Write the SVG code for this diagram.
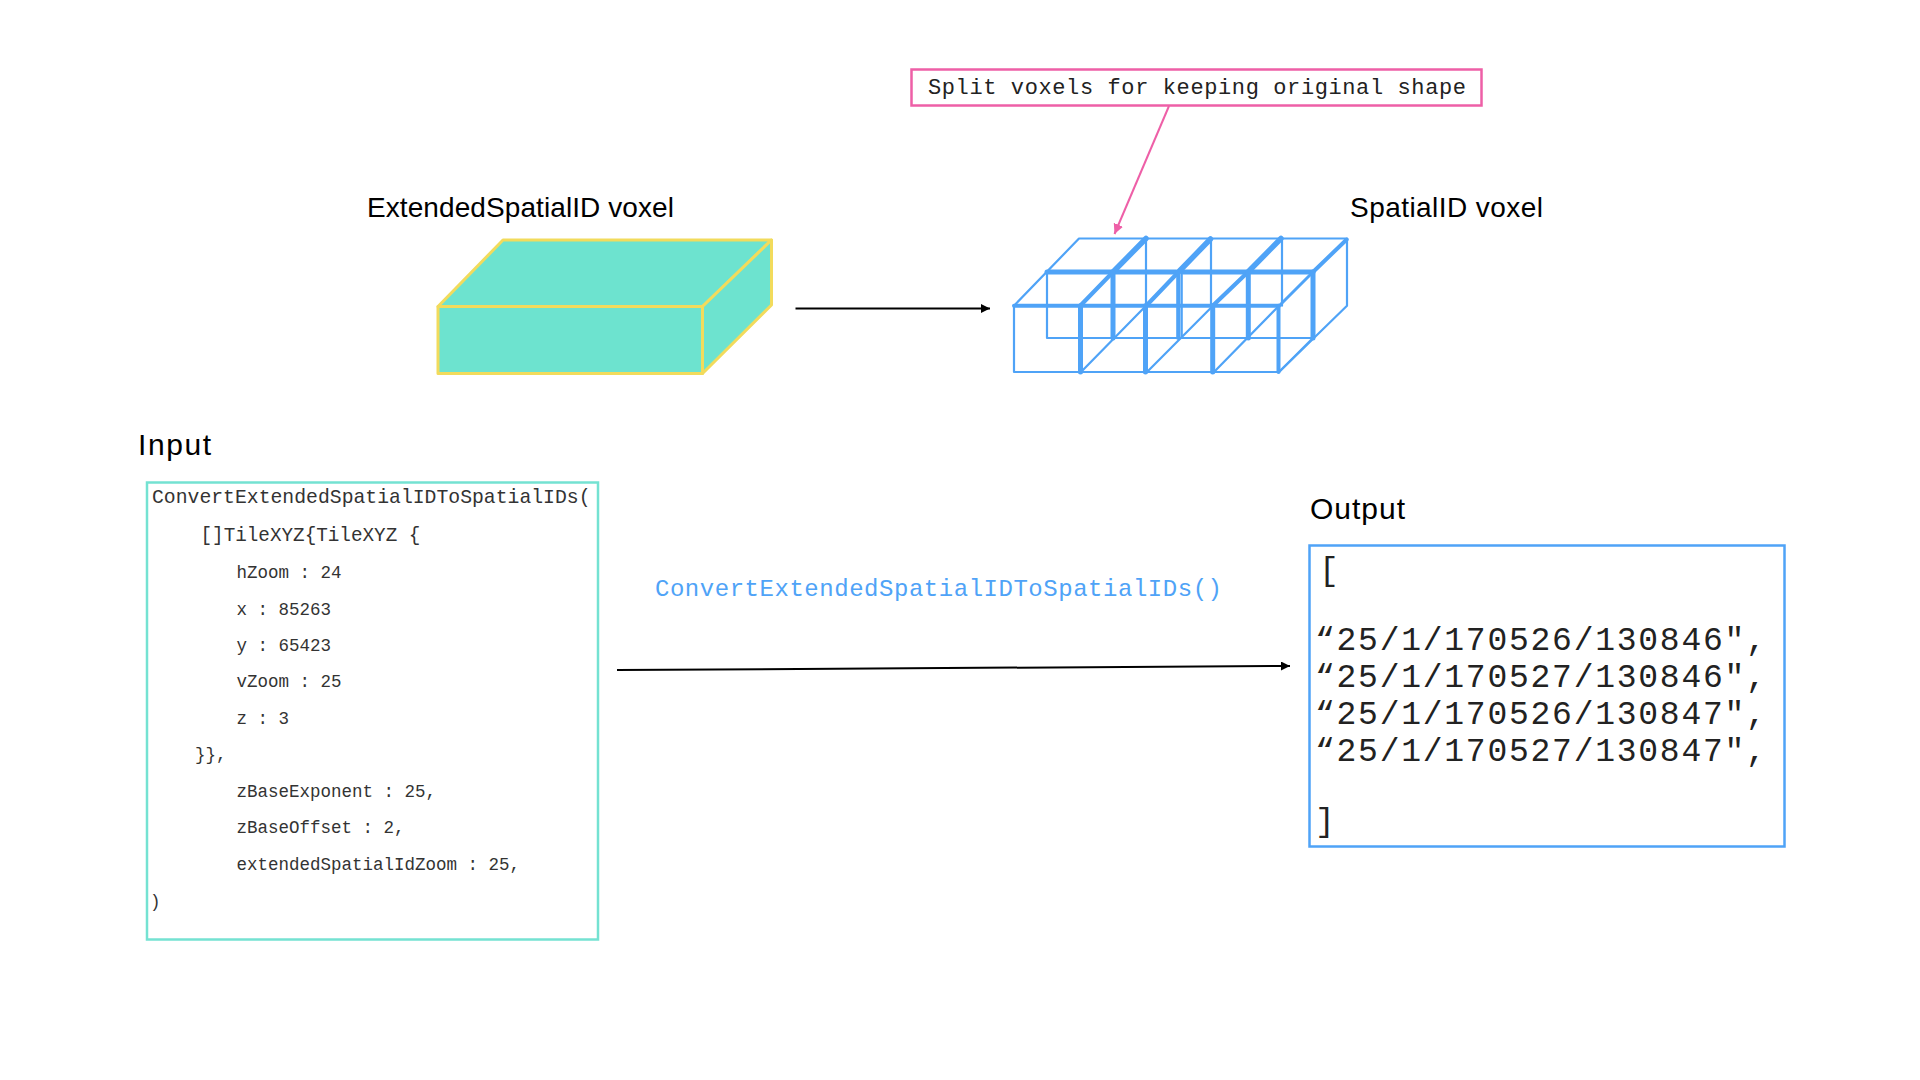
<svg xmlns="http://www.w3.org/2000/svg" width="1920" height="1080" viewBox="0 0 1920 1080">
<style>
.lab{font-family:"Liberation Sans",Arial,sans-serif;font-size:28px;fill:#000}
.big{font-size:30px}
.mono{font-family:"Liberation Mono",monospace;fill:#333}
.in{font-size:17.5px}
.out{font-size:33px;letter-spacing:1.75px;fill:#222}
.box{fill:#fff;stroke-width:2.5}
.y{fill:#6de3cf;stroke:#f2db5c;stroke-width:3;stroke-linejoin:round}
.v{fill:none;stroke:#4fa3f7;stroke-linecap:round;stroke-linejoin:round}
.t{stroke-width:2.2}
.m{stroke-width:4.2}
.k{stroke-width:5.5}
</style>
<defs>
<marker id="ab" markerUnits="userSpaceOnUse" markerWidth="10" markerHeight="10" refX="9" refY="4.5" orient="auto"><path d="M0 0L9 4.5L0 9Z" fill="#000"/></marker>
<marker id="ap" markerUnits="userSpaceOnUse" markerWidth="12" markerHeight="12" refX="10" refY="5" orient="auto"><path d="M0 0L10 5L0 10Z" fill="#ee5fa7"/></marker>
</defs>
<rect width="1920" height="1080" fill="#fff"/>

<g id="extended-voxel">
<text class="lab" x="367" y="217" textLength="307" lengthAdjust="spacing">ExtendedSpatialID voxel</text>
<path class="y" d="M438 306.500L503 240H771.500L702.500 306.500Z"/>
<path class="y" d="M702.500 306.500L771.500 240V305L702.500 373.500Z"/>
<rect class="y" x="438" y="306.500" width="264.500" height="67"/>
</g>

<g id="spatial-voxel">
<text class="lab" x="1350" y="217" textLength="193" lengthAdjust="spacing">SpatialID voxel</text>
<g class="v t">
<path d="M1014 305.700L1079 238.500H1210M1213 238.500H1347V305.700L1279 372"/>
<path d="M1146 238.500V305.700M1211 238.500V305.700M1282 238.500V305.700"/>
<path d="M1047 272V338H1177M1182 338H1313"/>
<path d="M1181.700 272V338"/>
<path d="M1014 305.700V372H1279"/>
<path d="M1081 372L1146 305.700M1147 372L1213 305.700M1214 372L1279 305.700M1279 372L1313 338"/>
</g>
<g class="v m">
<path d="M1178.300 272V338"/>
<path d="M1146.500 305.500L1178.500 272M1213 305.500L1248 272M1080.500 305.500L1113 272"/>
<path d="M1279.500 305.500L1313 272" stroke-width="3"/>
</g>
<g class="v k">
<path d="M1047 272H1176M1183 272H1313" stroke-width="5"/>
<path d="M1014 305.700H1279" stroke-width="4"/>
<path d="M1113 272L1146 238.500M1178.500 272L1210.500 239M1248 272L1281 238.500"/>
<path d="M1313 272L1346.700 239.500" stroke-width="4"/>
<path d="M1080.500 305.700V372M1145.500 305.700V372M1212.700 305.700V372" stroke-width="5"/>
<path d="M1278.500 305.700V372" stroke-width="4"/>
<path d="M1113 272V338M1248.300 272V338M1313 272V338" stroke-width="5"/>
</g>
</g>

<g id="input">
<text class="lab big" x="138" y="455" textLength="73" lengthAdjust="spacing">Input</text>
<rect class="box" x="147" y="482.500" width="451" height="457" stroke="#74e2d2"/>
<g class="mono in">
<text x="152" y="503" style="font-size:19.750px">ConvertExtendedSpatialIDToSpatialIDs(</text>
<text x="200.500" y="541" style="font-size:19.300px">[]TileXYZ{TileXYZ {</text>
<text x="236.500" y="578">hZoom : 24</text>
<text x="236.500" y="614.500">x : 85263</text>
<text x="236.500" y="651">y : 65423</text>
<text x="236.500" y="687">vZoom : 25</text>
<text x="236.500" y="724">z : 3</text>
<text x="195" y="760">}},</text>
<text x="236.500" y="797">zBaseExponent : 25,</text>
<text x="236.500" y="833">zBaseOffset : 2,</text>
<text x="236.500" y="870">extendedSpatialIdZoom : 25,</text>
<text x="150" y="907">)</text>
</g>
</g>

<g id="output">
<text class="lab big" x="1310" y="519" textLength="95" lengthAdjust="spacing">Output</text>
<rect class="box" x="1309.500" y="545.500" width="475" height="301" stroke="#4fa3f7"/>
<g class="mono out">
<text x="1319" y="580">[</text>
<text x="1315" y="650">“25/1/170526/130846",</text>
<text x="1315" y="687">“25/1/170527/130846",</text>
<text x="1315" y="724">“25/1/170526/130847",</text>
<text x="1315" y="761">“25/1/170527/130847",</text>
<text x="1315" y="831">]</text>
</g>
</g>

<g id="callout">
<rect class="box" x="911.500" y="69.500" width="570" height="36" stroke="#ee5fa7"/>
<text class="mono" x="928" y="94" style="font-size:22px;fill:#222" textLength="538" lengthAdjust="spacing">Split voxels for keeping original shape</text>
</g>

<text id="function-label" class="mono" x="655" y="596" style="font-size:24px;fill:#4fa3f7" textLength="567" lengthAdjust="spacing">ConvertExtendedSpatialIDToSpatialIDs()</text>

<g id="connectors" fill="none">
<path d="M795.500 308.500H990" stroke="#000" stroke-width="2" marker-end="url(#ab)"/>
<path d="M617 670L1290 666" stroke="#000" stroke-width="2" marker-end="url(#ab)"/>
<path d="M1169 106L1114.500 234" stroke="#ee5fa7" stroke-width="2" marker-end="url(#ap)"/>
</g>
</svg>
